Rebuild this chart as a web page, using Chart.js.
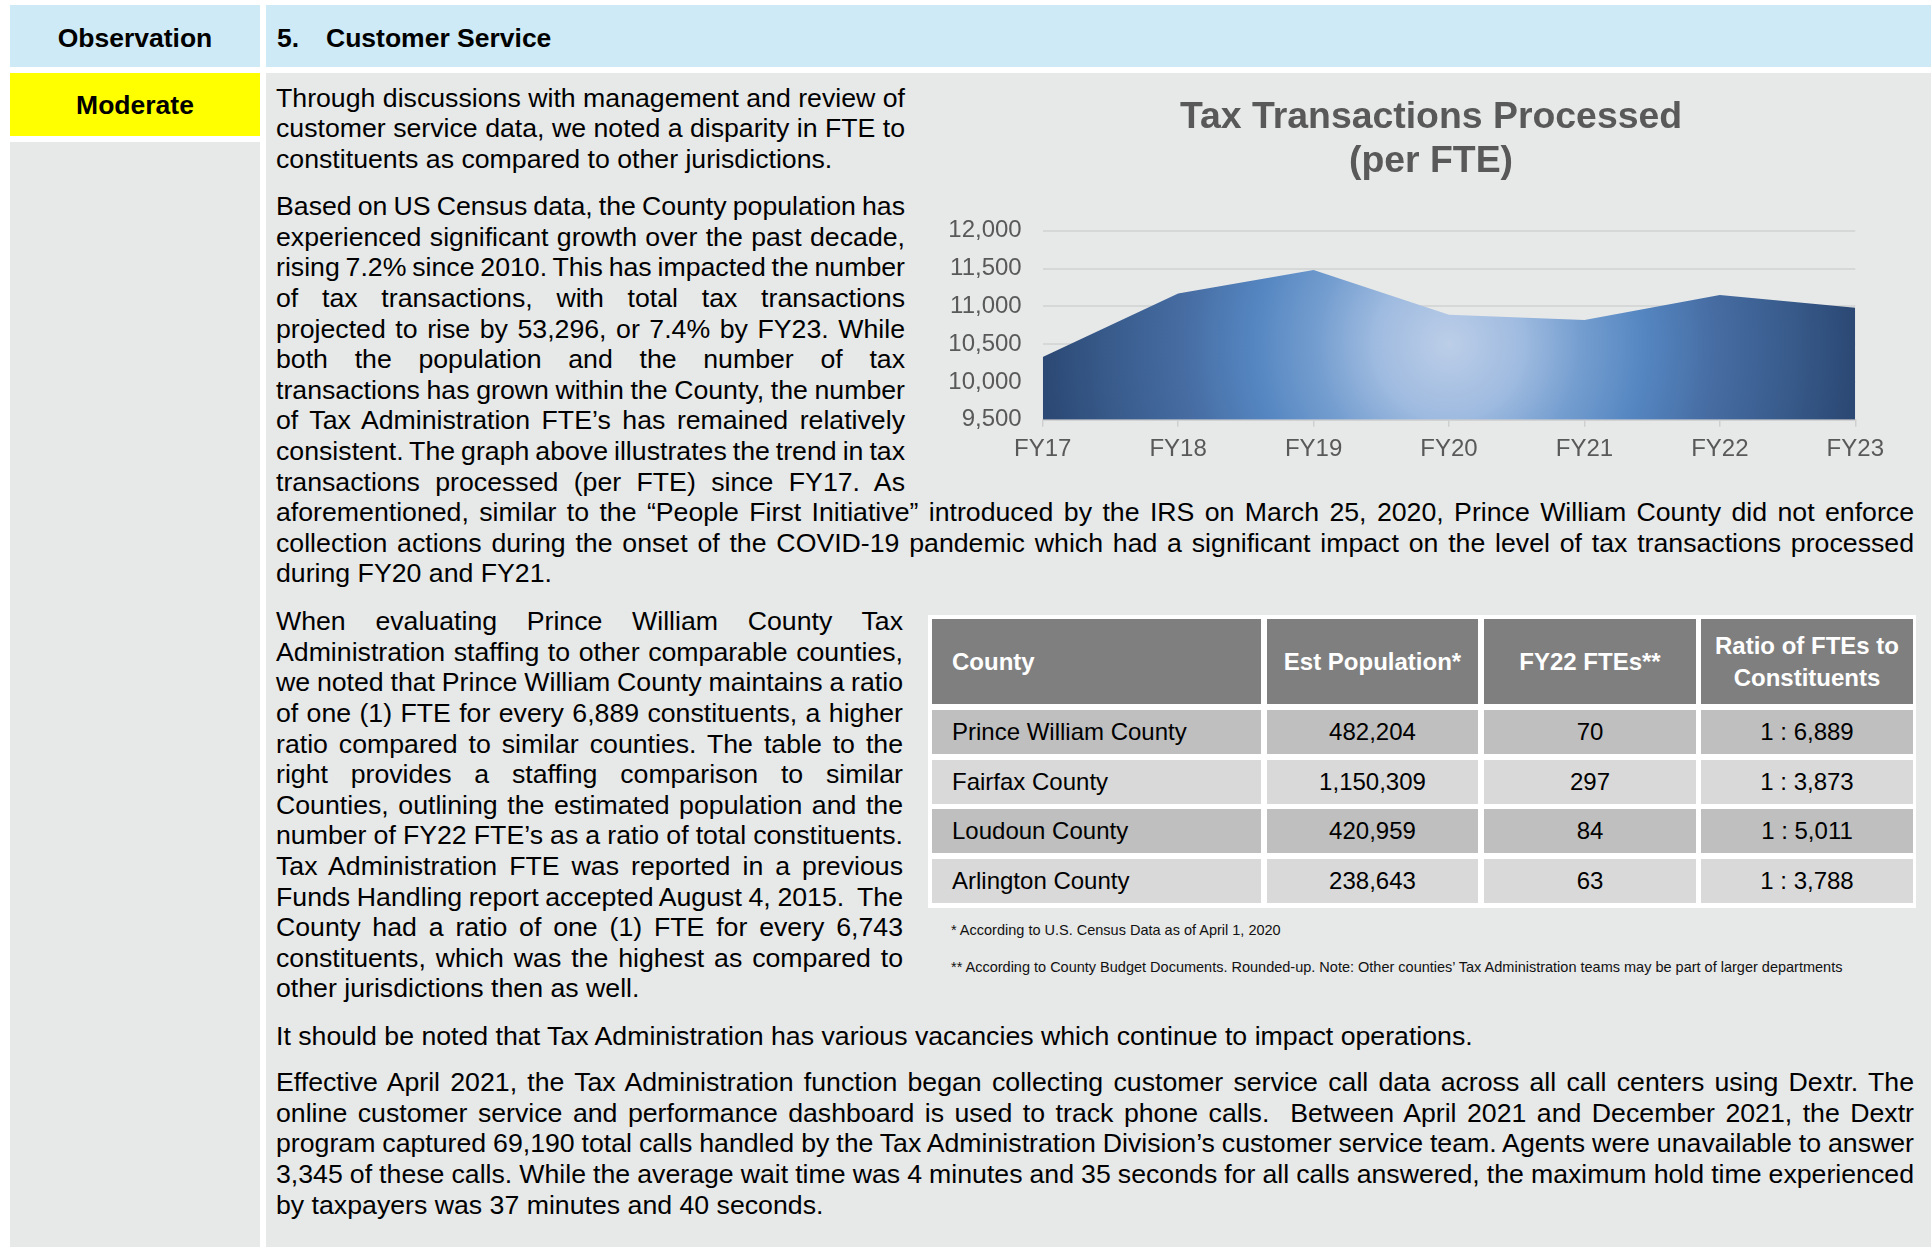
<!DOCTYPE html>
<html><head><meta charset="utf-8">
<script src="https://cdn.jsdelivr.net/npm/chart.js@4.4.1/dist/chart.umd.min.js"></script>
<style>
html,body{margin:0;padding:0;background:#fff;}
body{width:1931px;height:1247px;position:relative;overflow:hidden;font-family:"Liberation Sans",Arial,sans-serif;color:#000;}
.abs{position:absolute;}
.hdr{background:#cdeaf6;}
.gray{background:#e7e8e8;}
.bold{font-weight:bold;font-size:26.5px;}
.para{position:absolute;font-size:26.7px;line-height:30.6px;}
.para div{text-align:justify;text-align-last:justify;white-space:nowrap;height:30.6px;}
.para div.last{text-align:left;text-align-last:left;}
.cell{position:absolute;display:flex;align-items:center;justify-content:center;font-size:24px;line-height:31.7px;text-align:center;}
.cell.left{justify-content:flex-start;padding-left:20px;box-sizing:border-box;text-align:left;}
.cell.head{background:#7f7f7f;color:#fff;font-weight:bold;}
.foot{position:absolute;font-size:14.5px;line-height:17px;color:#111;white-space:nowrap;}
</style>
</head><body>
<!-- header bar -->
<div class="abs hdr" style="left:10px;top:5px;width:250px;height:62px;"></div>
<div class="abs hdr" style="left:266px;top:5px;width:1665px;height:62px;"></div>
<div class="abs bold" style="left:10px;top:22.5px;width:250px;text-align:center;line-height:30px;">Observation</div>
<div class="abs bold" style="left:277px;top:22.5px;line-height:30px;">5.</div>
<div class="abs bold" style="left:326px;top:22.5px;line-height:30px;">Customer Service</div>
<!-- left column -->
<div class="abs" style="left:10px;top:73px;width:250px;height:63px;background:#ffff00;"></div>
<div class="abs bold" style="left:10px;top:89.5px;width:250px;text-align:center;line-height:30px;">Moderate</div>
<div class="abs gray" style="left:10px;top:142px;width:250px;height:1105px;"></div>
<!-- right content panel -->
<div class="abs gray" style="left:266px;top:73px;width:1665px;height:1174px;"></div>

<div class="para" style="left:276px;top:82.8px;width:629px;">
<div>Through discussions with management and review of</div>
<div>customer service data, we noted a disparity in FTE to</div>
<div class="last">constituents as compared to other jurisdictions.</div>
</div>

<div class="para" style="left:276px;top:191.2px;width:629px;">
<div>Based on US Census data, the County population has</div>
<div>experienced significant growth over the past decade,</div>
<div>rising 7.2% since 2010. This has impacted the number</div>
<div>of tax transactions, with total tax transactions</div>
<div>projected to rise by 53,296, or 7.4% by FY23. While</div>
<div>both the population and the number of tax</div>
<div>transactions has grown within the County, the number</div>
<div>of Tax Administration FTE’s has remained relatively</div>
<div>consistent. The graph above illustrates the trend in tax</div>
<div>transactions processed (per FTE) since FY17. As</div>
<div style="width:1638px;">aforementioned, similar to the “People First Initiative” introduced by the IRS on March 25, 2020, Prince William County did not enforce</div>
<div style="width:1638px;">collection actions during the onset of the COVID-19 pandemic which had a significant impact on the level of tax transactions processed</div>
<div class="last">during FY20 and FY21.</div>
</div>

<div class="para" style="left:276px;top:606.2px;width:627px;">
<div>When evaluating Prince William County Tax</div>
<div>Administration staffing to other comparable counties,</div>
<div>we noted that Prince William County maintains a ratio</div>
<div>of one (1) FTE for every 6,889 constituents, a higher</div>
<div>ratio compared to similar counties. The table to the</div>
<div>right provides a staffing comparison to similar</div>
<div>Counties, outlining the estimated population and the</div>
<div>number of FY22 FTE’s as a ratio of total constituents.</div>
<div>Tax Administration FTE was reported in a previous</div>
<div>Funds Handling report accepted August 4, 2015.&nbsp; The</div>
<div>County had a ratio of one (1) FTE for every 6,743</div>
<div>constituents, which was the highest as compared to</div>
<div class="last">other jurisdictions then as well.</div>
</div>

<div class="para" style="left:276px;top:1021.2px;width:1638px;">
<div class="last">It should be noted that Tax Administration has various vacancies which continue to impact operations.</div>
</div>

<div class="para" style="left:276px;top:1067.3px;width:1638px;">
<div>Effective April 2021, the Tax Administration function began collecting customer service call data across all call centers using Dextr. The</div>
<div>online customer service and performance dashboard is used to track phone calls.&nbsp; Between April 2021 and December 2021, the Dextr</div>
<div>program captured 69,190 total calls handled by the Tax Administration Division’s customer service team. Agents were unavailable to answer</div>
<div>3,345 of these calls. While the average wait time was 4 minutes and 35 seconds for all calls answered, the maximum hold time experienced</div>
<div class="last">by taxpayers was 37 minutes and 40 seconds.</div>
</div>

<!-- table -->
<div class="abs" style="left:928px;top:615px;width:988px;height:293px;background:#fff;"></div>
<div id="table"></div>
<div class="foot" style="left:951px;top:921.5px;">* According to U.S. Census Data as of April 1, 2020</div>
<div class="foot" style="left:951px;top:958.5px;">** According to County Budget Documents. Rounded-up. Note: Other counties’ Tax Administration teams may be part of larger departments</div>

<canvas id="chart" width="1012" height="404" style="position:absolute;left:909px;top:76px;width:1012px;height:404px;"></canvas>

<script>
// ---- chart data ----
const fiscalYears = ['FY17', 'FY18', 'FY19', 'FY20', 'FY21', 'FY22', 'FY23'];
const transactionsPerFte = [10330, 11170, 11480, 10890, 10820, 11150, 10980];
const chartTitle = ['Tax Transactions Processed', '(per FTE)'];
const yMin = 9500, yMax = 12000, yStep = 500;

// ---- table data ----
const tableHeaders = ['County', 'Est Population*', 'FY22 FTEs**', 'Ratio of FTEs to<br>Constituents'];
const counties = ['Prince William County', 'Fairfax County', 'Loudoun County', 'Arlington County'];
const populations = ['482,204', '1,150,309', '420,959', '238,643'];
const ftes = ['70', '297', '84', '63'];
const ratios = ['1 : 6,889', '1 : 3,873', '1 : 5,011', '1 : 3,788'];

// fit justified lines: compress spaces when a line is naturally too wide
document.querySelectorAll('.para div:not(.last)').forEach((d) => {
  const span = document.createElement('span');
  span.innerHTML = d.innerHTML;
  d.innerHTML = '';
  d.appendChild(span);
  const avail = d.clientWidth;
  const natural = span.getBoundingClientRect().width;
  const spaces = (span.textContent.match(/[ \u00a0]/g) || []).length;
  if (natural > avail && spaces > 0) {
    d.style.wordSpacing = ((avail - natural) / spaces - 0.05) + 'px';
  }
});

// build table
(function () {
  const colLeft = [932, 1267, 1484, 1701];
  const colW = [329, 211, 212, 212];
  const rowTop = [710, 759.5, 809, 859];
  const rowBg = ['#bfbfbf', '#d9d9d9', '#bfbfbf', '#d9d9d9'];
  const host = document.getElementById('table');
  let html = '';
  tableHeaders.forEach((h, c) => {
    html += `<div class="cell head${c === 0 ? ' left' : ''}" style="left:${colLeft[c]}px;top:619px;width:${colW[c]}px;height:85px;">${h}</div>`;
  });
  counties.forEach((name, r) => {
    const vals = [name, populations[r], ftes[r], ratios[r]];
    vals.forEach((v, c) => {
      html += `<div class="cell${c === 0 ? ' left' : ''}" style="left:${colLeft[c]}px;top:${rowTop[r]}px;width:${colW[c]}px;height:44px;background:${rowBg[r]};">${v}</div>`;
    });
  });
  host.innerHTML = html;
})();

const FONT = '"Liberation Sans", Arial, sans-serif';
const areaFill = (ctx) => {
  const chart = ctx.chart;
  const ca = chart.chartArea;
  if (!ca) return '#5585c0';
  const cx = (ca.left + ca.right) / 2;
  const cy = ca.top + (ca.bottom - ca.top) * 0.6;
  const r = (ca.right - ca.left) / 2;
  const g = chart.ctx.createRadialGradient(cx, cy, 0, cx, cy, r);
  g.addColorStop(0, '#bccee8');
  g.addColorStop(0.18, '#9fbbe0');
  g.addColorStop(0.33, '#739dcf');
  g.addColorStop(0.48, '#5586c1');
  g.addColorStop(0.66, '#466ca2');
  g.addColorStop(0.85, '#375a8a');
  g.addColorStop(1, '#2c4874');
  return g;
};

// shift the title block so it is centred where the original title sits
const titleShift = {
  id: 'titleShift',
  afterLayout(chart) {
    const t = chart.titleBlock;
    if (!t) return;
    const dx = 522 - (t.left + t.right) / 2;
    t.left += dx;
    t.right += dx;
  }
};

new Chart(document.getElementById('chart'), {
  type: 'line',
  data: {
    labels: fiscalYears,
    datasets: [{
      data: transactionsPerFte,
      fill: 'start',
      backgroundColor: areaFill,
      borderWidth: 0,
      borderColor: 'rgba(0,0,0,0)',
      pointRadius: 0,
      tension: 0
    }]
  },
  plugins: [titleShift],
  options: {
    responsive: false,
    animation: false,
    devicePixelRatio: 1,
    layout: { padding: { left: 18.3, right: 65.7, top: 0, bottom: 8.5 } },
    plugins: {
      legend: { display: false },
      tooltip: { enabled: false },
      title: {
        display: true,
        text: chartTitle,
        color: '#595959',
        font: { family: FONT, size: 37.4, weight: 'bold', lineHeight: 1.16 },
        padding: { top: 20.2, bottom: 47.8 }
      }
    },
    scales: {
      x: {
        offset: false,
        grid: { display: true, drawOnChartArea: false, drawTicks: true, tickLength: 7, color: '#cfcfcf', lineWidth: 1.5 },
        border: { display: true, color: '#d2d2d2', width: 2 },
        ticks: { color: '#595959', font: { family: FONT, size: 24 }, padding: 8, maxRotation: 0, autoSkip: false }
      },
      y: {
        min: yMin, max: yMax,
        grid: { color: '#d6d7d7', lineWidth: 2, drawTicks: false },
        border: { display: false },
        ticks: {
          stepSize: yStep,
          padding: 21,
          color: '#595959',
          font: { family: FONT, size: 24 },
          callback: (v) => Number(v).toLocaleString('en-US')
        }
      }
    }
  }
});
</script>
</body></html>
